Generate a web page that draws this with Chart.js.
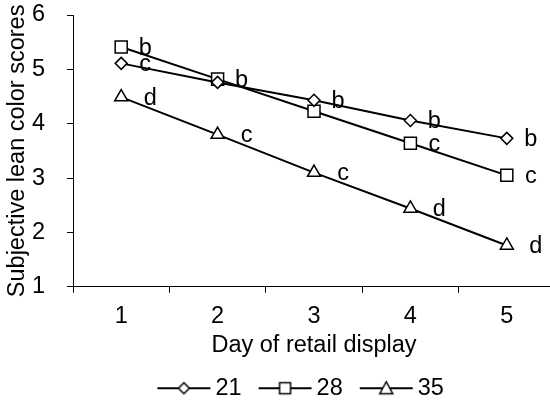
<!DOCTYPE html>
<html>
<head>
<meta charset="utf-8">
<title>Lean color scores</title>
<script src="https://cdn.jsdelivr.net/npm/chart.js@4.4.0/dist/chart.umd.min.js"></script>
<style>
html, body { margin: 0; padding: 0; overflow: hidden; background: #fff; }
</style>
</head>
<body>
<canvas id="lineChart" width="597" height="410"></canvas>
<script>
// chart values
var days = ['1', '2', '3', '4', '5'];
var seriesNames = ['21', '28', '35'];
var series21 = [5.11, 4.76, 4.43, 4.06, 3.73];
var series28 = [5.41, 4.82, 4.23, 3.64, 3.05];
var series35 = [4.49, 3.80, 3.10, 2.44, 1.76];
var letters21 = ['c', '', 'b', 'b', 'b'];
var letters28 = ['b', 'b', '', 'c', 'c'];
var letters35 = ['d', 'c', 'c', 'd', 'd'];

var fontFamily = '"Liberation Sans", Arial, sans-serif';
var fontSize = 23.5;
Chart.defaults.font.family = fontFamily;
Chart.defaults.font.size = fontSize;
Chart.defaults.color = '#000';

// legend icon: line with marker in the middle (transparent strip on the left)
function makeIcon(shape) {
    var c = document.createElement('canvas');
    c.width = 68;
    c.height = 20;
    var g = c.getContext('2d');
    var cx = 14 + 26.5;
    g.strokeStyle = '#000';
    g.lineWidth = 2;
    g.beginPath();
    g.moveTo(14, 10);
    g.lineTo(67, 10);
    g.stroke();
    g.fillStyle = '#fff';
    g.lineWidth = 1.5;
    g.beginPath();
    if (shape === 'diamond') {
        g.moveTo(cx, 4.5); g.lineTo(cx + 5.5, 10); g.lineTo(cx, 15.5); g.lineTo(cx - 5.5, 10);
    } else if (shape === 'square') {
        g.rect(cx - 5.5, 4.5, 11, 11);
    } else {
        g.moveTo(cx, 3.5); g.lineTo(cx + 6.5, 15.5); g.lineTo(cx - 6.5, 15.5);
    }
    g.closePath();
    g.fill();
    g.stroke();
    return c;
}
var icons = [makeIcon('diamond'), makeIcon('square'), makeIcon('triangle')];
var letterSets = [letters21, letters28, letters35];
var letterDx = [24, 24, 29];

var letterPlugin = {
    id: 'letters',
    afterLayout: function (chart) {
        // nudge the legend to where it sits in the original figure
        chart.legend.left += 20;
        chart.legend.right += 20;
    },
    afterDatasetsDraw: function (chart) {
        var ctx = chart.ctx;
        ctx.save();
        ctx.font = fontSize + 'px ' + fontFamily;
        ctx.fillStyle = '#000';
        ctx.textAlign = 'center';
        ctx.textBaseline = 'middle';
        chart.data.datasets.forEach(function (ds, i) {
            chart.getDatasetMeta(i).data.forEach(function (pt, j) {
                var txt = letterSets[i][j];
                if (txt) {
                    ctx.fillText(txt, pt.x + letterDx[i], pt.y + 1);
                }
            });
        });
        ctx.restore();
    }
};

function lineSet(label, values, style, radius) {
    return {
        label: label,
        data: values,
        borderColor: '#000',
        borderWidth: 2,
        backgroundColor: '#fff',
        pointStyle: style,
        pointRadius: radius,
        pointBorderWidth: 1.5,
        pointBackgroundColor: '#fff',
        pointBorderColor: '#000',
        tension: 0,
        fill: false
    };
}

var myLineChart = new Chart(document.getElementById('lineChart'), {
    type: 'line',
    data: {
        labels: days,
        datasets: [
            lineSet(seriesNames[0], series21, 'rectRot', 6),
            lineSet(seriesNames[1], series28, 'rect', 8.5),
            lineSet(seriesNames[2], series35, 'triangle', 7.5)
        ]
    },
    plugins: [letterPlugin],
    options: {
        responsive: false,
        animation: false,
        layout: { padding: { top: 15, right: 42, bottom: 0, left: 0 } },
        plugins: {
            tooltip: { enabled: false },
            legend: {
                position: 'bottom',
                labels: {
                    usePointStyle: true,
                    pointStyleWidth: 52.5,
                    padding: 10.75,
                    color: '#000',
                    generateLabels: function (chart) {
                        var items = Chart.defaults.plugins.legend.labels.generateLabels(chart);
                        items.forEach(function (it, i) { it.pointStyle = icons[i]; });
                        return items;
                    }
                }
            }
        },
        scales: {
            x: {
                offset: true,
                grid: { offset: true, drawOnChartArea: false, tickLength: 6, color: '#000' },
                border: { color: '#000', width: 1 },
                ticks: { padding: 10, color: '#000', maxRotation: 0 },
                title: { display: true, text: 'Day of retail display', color: '#000', padding: { top: 0, bottom: 6 } },
                afterFit: function (scale) { scale.height = 79; }
            },
            y: {
                min: 1,
                max: 6,
                ticks: { stepSize: 1, padding: 22, color: '#000' },
                grid: { drawOnChartArea: false, tickLength: 6, color: '#000' },
                border: { color: '#000', width: 1 },
                title: { display: true, text: 'Subjective lean color scores', color: '#000', padding: { top: 3, bottom: 0 } },
                afterFit: function (scale) {
                    scale.width = 73;
                    scale.paddingTop = 0;
                    scale.paddingBottom = 0;
                }
            }
        }
    }
});
</script>
</body>
</html>
